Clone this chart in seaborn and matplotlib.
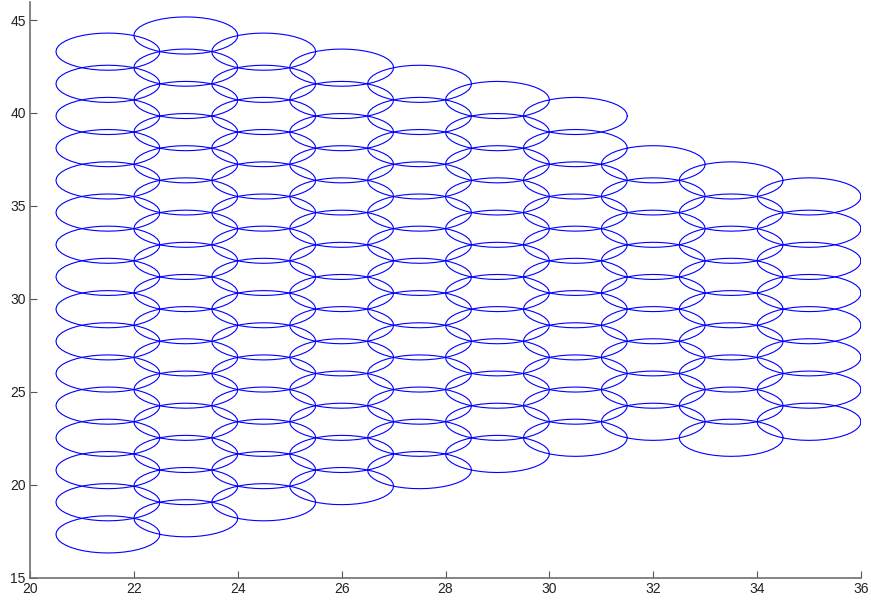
import numpy as np
import pandas as pd
import matplotlib
matplotlib.use("Agg")
import matplotlib.pyplot as plt
import seaborn as sns

# Cell centres of the hexagonal coverage grid, one list of y centres per column
col_x = [21.5, 23.0, 24.5, 26.0, 27.5, 29.0, 30.5, 32.0, 33.5, 35.0]
col_1 = [17.32, 19.05, 20.78, 22.52, 24.25, 25.98, 27.71, 29.44, 31.18, 32.91,
         34.64, 36.37, 38.11, 39.84, 41.57, 43.30]
col_2 = [18.19, 19.92, 21.65, 23.38, 25.11, 26.85, 28.58, 30.31, 32.04, 33.77,
         35.51, 37.24, 38.97, 40.70, 42.44, 44.17]
col_3 = [19.05, 20.78, 22.52, 24.25, 25.98, 27.71, 29.44, 31.18, 32.91, 34.64,
         36.37, 38.11, 39.84, 41.57, 43.30]
col_4 = [19.92, 21.65, 23.38, 25.11, 26.85, 28.58, 30.31, 32.04, 33.77, 35.51,
         37.24, 38.97, 40.70, 42.44]
col_5 = [20.78, 22.52, 24.25, 25.98, 27.71, 29.44, 31.18, 32.91, 34.64, 36.37,
         38.11, 39.84, 41.57]
col_6 = [21.65, 23.38, 25.11, 26.85, 28.58, 30.31, 32.04, 33.77, 35.51, 37.24,
         38.97, 40.70]
col_7 = [22.52, 24.25, 25.98, 27.71, 29.44, 31.18, 32.91, 34.64, 36.37, 38.11,
         39.84]
col_8 = [23.38, 25.11, 26.85, 28.58, 30.31, 32.04, 33.77, 35.51, 37.24]
col_9 = [22.52, 24.25, 25.98, 27.71, 29.44, 31.18, 32.91, 34.64, 36.37]
col_10 = [23.38, 25.11, 26.85, 28.58, 30.31, 32.04, 33.77, 35.51]
col_y = [col_1, col_2, col_3, col_4, col_5, col_6, col_7, col_8, col_9, col_10]

cell_radius = 1.0
x_ticks = [20, 22, 24, 26, 28, 30, 32, 34, 36]
y_ticks = [15, 20, 25, 30, 35, 40, 45]

# Outline of every cell as a closed circle traced around its centre
theta = np.linspace(0, 2 * np.pi, 41)
rows = []
cell = 0
for cx, ys in zip(col_x, col_y):
    for cy in ys:
        for t in theta:
            rows.append((cell, cx + cell_radius * np.cos(t), cy + cell_radius * np.sin(t)))
        cell += 1
outlines = pd.DataFrame(rows, columns=["cell", "x", "y"])

sns.set_theme(style="white")
plt.rcParams["font.family"] = ["Liberation Sans", "DejaVu Sans"]

fig = plt.figure(figsize=(8.71, 6.05), dpi=100)
ax = fig.add_axes([30 / 871, 27.5 / 605, 831 / 871, 576 / 605])

sns.lineplot(data=outlines, x="x", y="y", units="cell", estimator=None,
             sort=False, color="#0000ff", linewidth=0.8, ax=ax, legend=False)

ax.set_xlim(20, 36)
ax.set_ylim(15, 46)
ax.set_xticks(x_ticks)
ax.set_yticks(y_ticks)
ax.set_xlabel("")
ax.set_ylabel("")
for side in ("top", "right"):
    ax.spines[side].set_visible(False)
for side in ("left", "bottom"):
    ax.spines[side].set_color("#707070")
    ax.spines[side].set_linewidth(1.2)
ax.tick_params(bottom=True, left=True, direction="in", length=5, width=0.8,
               color="#555555", labelsize=10, labelcolor="#222222", pad=3)

fig.savefig("out.png", dpi=100)
